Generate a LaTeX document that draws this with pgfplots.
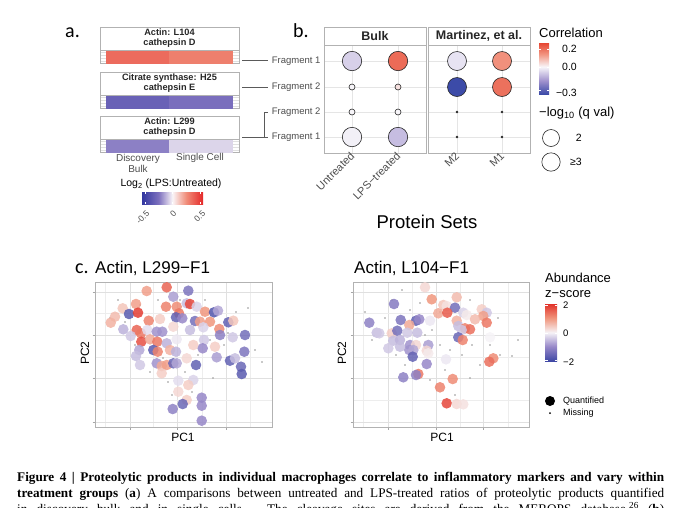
\documentclass[border=0pt]{standalone}
\usepackage{fontspec}
\setmainfont{Liberation Sans}
\newfontfamily\capfont{Liberation Serif}
\newfontfamily\letfont{Carlito}
\usepackage{pgfplots}
\pgfplotsset{compat=1.18}
\usepgfplotslibrary{patchplots}

\newcommand{\fs}[1]{\fontsize{#1}{#1}\selectfont}
\definecolor{txtgray}{RGB}{77,77,77}
\definecolor{lnk}{RGB}{90,90,90}
% log2 ratio colours (panel a)
\definecolor{lfcA}{RGB}{50,55,160}
\definecolor{lfcB}{RGB}{125,112,190}
\definecolor{lfcC}{RGB}{250,245,248}
\definecolor{lfcD}{RGB}{240,140,120}
\definecolor{lfcE}{RGB}{228,40,40}
% correlation colours (panel b)
\definecolor{crA}{RGB}{60,75,168}
\definecolor{crB}{RGB}{160,145,205}
\definecolor{crC}{RGB}{248,246,250}
\definecolor{crD}{RGB}{242,150,130}
\definecolor{crE}{RGB}{230,70,50}
% z-score colours (panel c)
\definecolor{zA}{RGB}{63,72,165}
\definecolor{zB}{RGB}{150,135,200}
\definecolor{zC}{RGB}{246,243,247}
\definecolor{zD}{RGB}{240,150,125}
\definecolor{zE}{RGB}{226,50,42}

\pgfdeclarehorizontalshading{lfcbar}{100bp}{color(0bp)=(lfcA); color(25bp)=(lfcA); color(38.6bp)=(lfcB); color(50bp)=(lfcC); color(61.4bp)=(lfcD); color(75bp)=(lfcE); color(100bp)=(lfcE)}
\pgfdeclareverticalshading{corrbar}{100bp}{color(0bp)=(crA); color(25bp)=(crA); color(37.9bp)=(crB); color(51.7bp)=(crC); color(63.8bp)=(crD); color(75bp)=(crE); color(100bp)=(crE)}
\pgfdeclareverticalshading{zbar}{100bp}{color(0bp)=(zA); color(25bp)=(zA); color(37.5bp)=(zB); color(50bp)=(zC); color(62.5bp)=(zD); color(75bp)=(zE); color(100bp)=(zE)}

\pgfplotsset{
  colormap={lfc}{rgb255(0pt)=(50,55,160) rgb255(6pt)=(125,112,190) rgb255(11pt)=(250,245,248) rgb255(16pt)=(240,140,120) rgb255(22pt)=(228,40,40)},
  colormap={corr}{rgb255(0pt)=(60,75,168) rgb255(15pt)=(160,145,205) rgb255(31pt)=(248,246,250) rgb255(45pt)=(242,150,130) rgb255(58pt)=(230,70,50)},
  colormap={zsc}{rgb255(0pt)=(63,72,165) rgb255(1pt)=(150,135,200) rgb255(2pt)=(246,243,247) rgb255(3pt)=(240,150,125) rgb255(4pt)=(226,50,42)},
  tile/.style={scale only axis, width=139pt, height=13pt, anchor=south west,
    xmin=-0.1, xmax=2.1, ymin=0, ymax=1, xtick=\empty,
    ytick={0.15,0.38,0.62,0.85}, yticklabels={}, major tick length=0pt,
    grid=major, grid style={black!12}, axis line style={black!30},
    colormap name=lfc, point meta min=-0.55, point meta max=0.55},
  bub/.style={scale only axis, width=102pt, height=108pt, anchor=south west,
    y dir=reverse, ymin=45, ymax=153, ytick={61,87,112,137},
    grid=major, grid style={black!10}, axis line style={black!30},
    major tick length=0pt,
    xticklabel style={rotate=45, anchor=east, font=\fs{11}, text=txtgray,
      xshift=3pt, yshift=-1pt},
    yticklabel style={font=\fs{9.5}, text=txtgray},
    colormap name=corr, point meta min=-0.31, point meta max=0.27},
  bubble/.style={scatter, only marks, mark=*, point meta=explicit,
    scatter/use mapped color={draw=black!85, fill=mapped color},
    mark size=#1, mark options={line width=0.6pt}},
  pca/.style={scale only axis, height=145pt, anchor=south west,
    y dir=reverse, ymin=282, ymax=427,
    ytick={292,335,378,422}, minor ytick={313,357,400},
    grid=both, major grid style={black!12}, minor grid style={black!7},
    axis line style={black!30}, xticklabels={}, yticklabels={},
    tick pos=left, tick align=outside, major tick length=2.5pt,
    minor tick length=0pt, tick style={black!35},
    colormap name=zsc, point meta min=-2, point meta max=2},
  pts/.style={scatter, only marks, mark=*, mark size=5.3pt, point meta=explicit,
    scatter/use mapped color={draw opacity=0, fill=mapped color},
    mark options={fill opacity=0.85}},
  miss/.style={only marks, mark=*, mark size=0.6pt, black!35},
}

\begin{document}
\begin{tikzpicture}
\path[use as bounding box] (0pt,0pt) rectangle (680pt,-507pt);

% ---------------- a: log2 ratio tiles
\begin{axis}[tile, at={(100pt,-63pt)}]
\addplot[patch, patch type=rectangle, shader=flat corner, point meta=explicit] table[meta=c]{
x y c
0 0 0.35
1 0 0.35
1 1 0.35
0 1 0.35
1 0 0.29
2 0 0.29
2 1 0.29
1 1 0.29
};
\end{axis}
\begin{axis}[tile, at={(100pt,-108pt)}]
\addplot[patch, patch type=rectangle, shader=flat corner, point meta=explicit] table[meta=c]{
x y c
0 0 -0.33
1 0 -0.33
1 1 -0.33
0 1 -0.33
1 0 -0.26
2 0 -0.26
2 1 -0.26
1 1 -0.26
};
\end{axis}
\begin{axis}[tile, at={(100pt,-152pt)}]
\addplot[patch, patch type=rectangle, shader=flat corner, point meta=explicit] table[meta=c]{
x y c
0 0 -0.22
1 0 -0.22
1 1 -0.22
0 1 -0.22
1 0 -0.06
2 0 -0.06
2 1 -0.06
1 1 -0.06
};
\end{axis}

% ---------------- b: correlation bubbles
\begin{axis}[bub, at={(324pt,-153pt)}, xmin=324, xmax=426, xtick={352,398},
  xticklabels={Untreated,LPS−treated},
  yticklabels={Fragment 1,Fragment 2,Fragment 2,Fragment 1}]
\addplot[bubble=9.7pt] table[x=x, y=y, meta=c]{
x y c
352 61 -0.06
398 61 0.21
352 137 -0.01
398 137 -0.09
};
\addplot[bubble=3pt] table[x=x, y=y, meta=c]{
x y c
352 87 0.00
398 87 0.03
352 112 0.00
398 112 0.00
};
\end{axis}
\begin{axis}[bub, at={(428pt,-153pt)}, xmin=428, xmax=530, xtick={457,502},
  xticklabels={M2,M1}, yticklabels={}]
\addplot[bubble=9.5pt] table[x=x, y=y, meta=c]{
x y c
457 61 -0.03
502 61 0.15
457 87 -0.31
502 87 0.20
};
\addplot[bubble=0.9pt] table[x=x, y=y, meta=c]{
x y c
457 112 0.00
502 112 0.00
457 137 0.00
502 137 0.00
};
\end{axis}

% ---------------- c: PCA, Actin L299-F1
\begin{axis}[pca, at={(95pt,-427pt)}, width=177pt, xmin=95, xmax=272,
  xtick={130,177,226}, minor xtick={105,153,202,250}]
\addplot[miss] coordinates {(110,318) (118,300) (135,345) (150,372) (163,358)
  (172,395) (185,372) (198,355) (210,340) (224,345) (248,308) (255,350)
  (262,362) (140,305) (158,300) (180,300) (205,300) (228,333) (192,392)
  (168,382) (125,322) (145,338) (213,378) (236,312)};
\addplot[pts] table[x=x, y=y, meta=z]{
x y z
166.7 287.3 1.5
188.3 290.7 -1.3
146.7 291 0.9
173.3 296.7 -0.8
136 304 0.9
166 306.7 1.2
186.7 303.3 -0.5
176.7 306.7 1.1
190 304 1.8
196.7 306.7 -0.3
205 311.7 1.0
214 312.3 -1.8
218 310.7 -0.7
122.7 308.3 0.5
115 316.7 0.6
110.7 322.7 0.7
129 314 -1.7
138 312.7 1.9
148.7 320.7 1.2
160 319 0.4
179 313.3 1.3
176 317.3 -1.6
182.3 318.3 -1.0
195 321 -1.4
200 321.7 0.9
210 321.7 1.0
228.3 322.3 -1.6
233.3 320.7 0.5
123.3 329.3 -0.6
136.7 330 1.5
141 333.3 1.3
147.3 330 -0.2
156.7 331.7 -0.9
162.3 331.7 -0.9
173.3 326.7 0.3
190 330 -0.5
203.3 327.3 -0.3
219.3 329 1.1
220 335 -1.1
232.7 337.3 -0.4
245 335 -1.4
130.7 336 -0.4
141.3 341.7 1.7
150 339.3 0.8
157.3 341.7 1.3
166.7 343.3 -0.6
176.7 339.3 -0.1
193.3 345 0.4
204 340 -0.4
215 346.7 0.4
202.7 348.3 -1.0
139.3 350 -0.7
153.3 350 -1.7
157.7 351.7 1.2
170 350 0.7
176 351.7 -0.6
136 356 -0.5
216.7 357.3 -0.8
230 360.7 -1.6
235 358.3 -0.5
244.3 351.7 -1.3
140 365 -0.4
156.7 363.3 -0.9
161.7 366 0.8
166.7 365 0.9
173.3 363.3 -1.5
176.7 363.3 -0.7
186.7 358.3 0.3
196 365 -1.6
241 366.7 -1.5
241.7 374 -1.7
161.7 373.3 0.4
178.3 380.7 -0.2
193.3 380 -0.3
188.3 385 0.4
178.3 391.7 0.3
186.7 400 0.4
201.7 397.7 -1.0
201.7 405.7 -1.0
182.7 404 -1.5
172.7 409 -1.1
201.7 420.7 -1.0
};
\end{axis}

% ---------------- c: PCA, Actin L104-F1
\begin{axis}[pca, at={(353pt,-427pt)}, width=176pt, xmin=353, xmax=529,
  xtick={388,436,483}, minor xtick={363,412,460,508}]
\addplot[miss] coordinates {(365,312) (372,340) (385,318) (392,300) (402,290)
  (420,303) (432,330) (440,345) (450,350) (462,355) (472,345) (480,365)
  (490,345) (500,355) (512,356) (518,340) (455,395) (470,378) (445,370)
  (430,380) (405,365) (396,355) (440,312) (470,300) (498,318) (425,335) (410,310)};
\addplot[pts] table[x=x, y=y, meta=z]{
x y z
425 287.3 0.3
431.7 299.3 1.0
456.7 297.3 0.6
394 304 -1.2
443.3 305 0.5
446.7 306 0.2
455 307.7 -1.4
481.7 309.3 0.4
486.7 312.7 -0.4
438.3 313.3 0.8
447.3 312.7 1.6
463.3 312.7 -0.3
466.7 315 0.1
483.3 316 0.9
475 319.3 0.6
369.3 322.7 -1.1
400.7 320 -1.3
416 320.7 -1.6
419.3 319.3 -1.0
409.3 325 0.8
430 320.7 -0.1
456.7 320.7 0.7
486.7 322.7 1.3
458.3 326 -0.5
465 328.3 1.2
470 329.3 1.4
461.7 330 -0.4
376.7 332.7 -0.5
379.3 333.3 -0.4
391.7 333.3 0.4
397.3 330.7 -1.4
407.3 332.7 -0.4
417.3 332.7 -0.5
458.3 337.3 -1.5
462.7 340 1.2
490 337.3 0.0
393.3 340.7 -0.5
400 340 -0.6
388.3 348.3 -0.4
400 346.7 -0.5
410 345 -0.9
416 345 0.3
428.3 345 -0.8
409.3 350 -0.9
413.3 350 -0.7
426.7 350.7 0.3
412.7 356.7 -1.6
428.3 353.3 0.1
426.7 364 -1.0
446 359.3 -0.1
493.3 358.3 1.1
489.3 361.7 1.4
418.3 374 1.3
416 375 -1.1
403.3 377.3 -1.1
452.7 379 1.1
440 387.3 1.2
446.7 403.3 1.8
456.7 404 0.3
463.3 404.3 0.2
};
\end{axis}

% ---------------- annotations (1 unit = 1 px of the reference)
\begin{scope}[x=1pt, y=-1pt, t/.style={inner sep=0pt}]
  % panel letters
  \node[t, anchor=base west] at (65,37) {\letfont\fs{20}a.};
  \node[t, anchor=base west] at (293,37) {\letfont\fs{20}b.};
  \node[t, anchor=base west] at (75,273) {\letfont\fs{20}c.};

  % a: facet headers
  \foreach \yt/\yb/\txt in {27/50/{Actin: L104\\cathepsin D},
                            72/95/{Citrate synthase: H25\\cathepsin E},
                            116/139/{Actin: L299\\cathepsin D}} {
    \draw[black!30, fill=white] (100,\yt) rectangle (239,\yb);
    \node[t, align=center, font=\fontsize{9.2}{10}\selectfont\bfseries, text=black!85]
      at (169.5,{(\yt+\yb)/2}) {\txt};
  }
  \node[t, align=center, font=\fontsize{10}{11}\selectfont, text=txtgray] at (138,163) {Discovery\\Bulk};
  \node[t, font=\fs{10}, text=txtgray] at (200,158) {Single Cell};
  \node[t, font=\fs{10.5}] at (171,184) {Log\textsubscript{2} (LPS:Untreated)};
  \shade[shading=lfcbar] (142,192) rectangle (203,204);
  \foreach \xx in {145,172.5,200} {
    \draw[white, line width=0.6pt] (\xx,192) -- (\xx,194) (\xx,202) -- (\xx,204);
  }
  \node[t, rotate=45, anchor=east, font=\fs{8.5}, text=txtgray] at (148,212) {-0.5};
  \node[t, rotate=45, anchor=east, font=\fs{8.5}, text=txtgray] at (175,212) {0};
  \node[t, rotate=45, anchor=east, font=\fs{8.5}, text=txtgray] at (204,212) {0.5};

  % a -> b links
  \draw[lnk, line width=0.8pt] (242,60) -- (268,60);
  \draw[lnk, line width=0.8pt] (242,87) -- (268,87);
  \draw[lnk, line width=0.8pt] (242,137.5) -- (264,137.5)
    (268,112) -- (264,112) -- (264,137.5) -- (268,137.5);

  % b: facet strips
  \draw[black!30, fill=white] (324,27) rectangle (426,45);
  \draw[black!30, fill=white] (428,27) rectangle (530,45);
  \node[t, font=\fs{12.5}\bfseries, text=black!85] at (375,36) {Bulk};
  \node[t, font=\fs{12.5}\bfseries, text=black!85] at (479,36) {Martinez, et al.};
  \node[t, font=\fs{18.5}] at (427,222) {Protein Sets};

  % b: legends
  \node[t, anchor=base west, font=\fs{13}] at (539,37) {Correlation};
  \shade[shading=corrbar] (539,43) rectangle (549,94);
  \foreach \yy in {49,67,90} {
    \draw[white, line width=0.6pt] (539,\yy) -- (541,\yy) (547,\yy) -- (549,\yy);
  }
  \node[t, anchor=east, font=\fs{10.5}] at (577,49) {0.2};
  \node[t, anchor=east, font=\fs{10.5}] at (577,67) {0.0};
  \node[t, anchor=east, font=\fs{10.5}] at (577,93) {−0.3};
  \node[t, anchor=base west, font=\fs{13}] at (539,116) {−log\textsubscript{10} (q val)};
  \draw[black!85, line width=0.6pt] (551,138) circle (8.5);
  \draw[black!85, line width=0.6pt] (551,162) circle (9.2);
  \node[t, anchor=east, font=\fs{10.5}] at (582,138) {2};
  \node[t, anchor=east, font=\fs{10.5}] at (582,162) {≥3};

  % c: titles and axis labels
  \node[t, anchor=base west, font=\fs{17}] at (95,273) {Actin, L299−F1};
  \node[t, anchor=base west, font=\fs{17}] at (354,273) {Actin, L104−F1};
  \node[t, rotate=90, font=\fs{12}] at (85,353) {PC2};
  \node[t, rotate=90, font=\fs{12}] at (342,353) {PC2};
  \node[t, font=\fs{12}] at (183,437) {PC1};
  \node[t, font=\fs{12}] at (442,437) {PC1};

  % c: legend
  \node[t, anchor=base west, font=\fs{13}] at (545,282) {Abundance};
  \node[t, anchor=base west, font=\fs{13}] at (545,297) {z−score};
  \shade[shading=zbar] (545,304) rectangle (557,361);
  \foreach \yy in {305,333,360} {
    \draw[white, line width=0.6pt] (545,\yy) -- (547.5,\yy) (554.5,\yy) -- (557,\yy);
  }
  \node[t, anchor=west, font=\fs{9.5}] at (563,305) {2};
  \node[t, anchor=west, font=\fs{9.5}] at (563,333) {0};
  \node[t, anchor=west, font=\fs{9.5}] at (563,362) {−2};
  \fill[black] (550,401) circle (5);
  \fill[black] (550,413) circle (1);
  \node[t, anchor=west, font=\fs{9}] at (563,401) {Quantified};
  \node[t, anchor=west, font=\fs{9}] at (563,413) {Missing};

  % caption
  \node[t, anchor=base west] at (17,481) {\capfont\fs{13.2}\bfseries\makebox[647pt][s]{Figure 4 | Proteolytic products in individual macrophages correlate to inflammatory markers and vary within}};
  \node[t, anchor=base west] at (17,497) {\capfont\fs{13.2}\makebox[647pt][s]{\textbf{treatment groups} (\textbf{a}) A comparisons between untreated and LPS-treated ratios of proteolytic products quantified}};
  \node[t, anchor=base west] at (17,513) {\capfont\fs{13.2}\makebox[647pt][s]{in discovery bulk and in single cells. The cleavage sites are derived from the MEROPS database.\textsuperscript{26} (\textbf{b})}};
\end{scope}
\end{tikzpicture}
\end{document}
